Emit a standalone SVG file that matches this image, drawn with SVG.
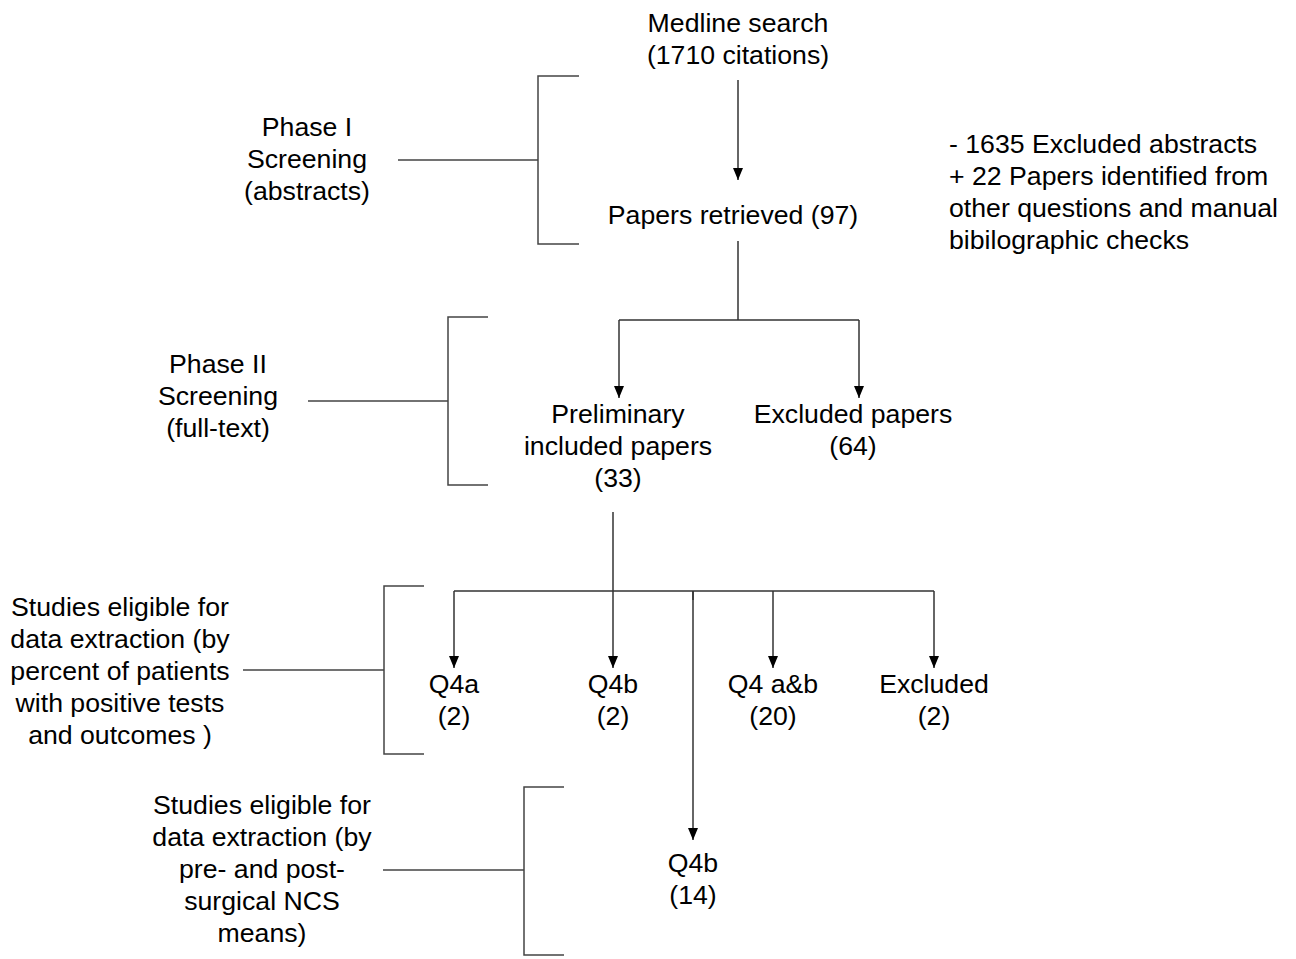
<svg xmlns="http://www.w3.org/2000/svg" width="1296" height="959" viewBox="0 0 1296 959">
<style>
text{font-family:"Liberation Sans",Arial,sans-serif;font-size:26.67px;fill:#000}
.c{text-anchor:middle}
.ln{stroke:#333;stroke-width:1.5;fill:none}
.ar{stroke:#333;stroke-width:1.5;fill:none;marker-end:url(#ah)}
.br{stroke:#444;stroke-width:1.5;fill:none}
</style>
<defs>
<marker id="ah" markerWidth="12" markerHeight="10" refX="12" refY="5" orient="auto" markerUnits="userSpaceOnUse" viewBox="0 0 12 10">
<path d="M0,0 L12,5 L0,10 Z" fill="#000"/>
</marker>
</defs>
<rect width="1296" height="959" fill="#fff"/>

<g id="connectors">
<line class="ar" x1="738" y1="80" x2="738" y2="180"/>
<path class="ln" d="M738,241 V320 M619,320 H859"/>
<line class="ar" x1="619" y1="320" x2="619" y2="398"/>
<line class="ar" x1="859" y1="320" x2="859" y2="398"/>
<path class="ln" d="M454,591 H934 M693,591 V600"/>
<line class="ar" x1="613" y1="512" x2="613" y2="668"/>
<line class="ar" x1="454" y1="591" x2="454" y2="668"/>
<line class="ar" x1="773" y1="591" x2="773" y2="668"/>
<line class="ar" x1="934" y1="591" x2="934" y2="668"/>
<line class="ar" x1="693" y1="591" x2="693" y2="840"/>
</g>

<g id="bracket1"><path class="br" d="M579,76 H538 V244 H579 M398,160 H538"/></g>
<g id="bracket2"><path class="br" d="M488,317 H448 V485 H488 M308,401 H448"/></g>
<g id="bracket3"><path class="br" d="M424,586 H384 V754 H424 M243,670 H384"/></g>
<g id="bracket4"><path class="br" d="M564,787 H524 V955 H564 M383,870 H524"/></g>

<g id="medline"><text class="c" x="738" y="32">Medline search</text><text class="c" x="738" y="64">(1710 citations)</text></g>
<g id="phase1"><text class="c" x="307" y="136">Phase I</text><text class="c" x="307" y="168">Screening</text><text class="c" x="307" y="200">(abstracts)</text></g>
<g id="retrieved"><text class="c" x="733" y="224">Papers retrieved (97)</text></g>
<g id="note"><text x="949" y="153">- 1635 Excluded abstracts</text><text x="949" y="185">+ 22 Papers identified from</text><text x="949" y="217">other questions and manual</text><text x="949" y="249">bibilographic checks</text></g>
<g id="phase2"><text class="c" x="218" y="373">Phase II</text><text class="c" x="218" y="405">Screening</text><text class="c" x="218" y="437">(full-text)</text></g>
<g id="prelim"><text class="c" x="618" y="423">Preliminary</text><text class="c" x="618" y="455">included papers</text><text class="c" x="618" y="487">(33)</text></g>
<g id="excl1"><text class="c" x="853" y="423">Excluded papers</text><text class="c" x="853" y="455">(64)</text></g>
<g id="elig1"><text class="c" x="120" y="616">Studies eligible for</text><text class="c" x="120" y="648">data extraction (by</text><text class="c" x="120" y="680">percent of patients</text><text class="c" x="120" y="712">with positive tests</text><text class="c" x="120" y="744">and outcomes )</text></g>
<g id="q4a"><text class="c" x="454" y="693">Q4a</text><text class="c" x="454" y="725">(2)</text></g>
<g id="q4b"><text class="c" x="613" y="693">Q4b</text><text class="c" x="613" y="725">(2)</text></g>
<g id="q4ab"><text class="c" x="773" y="693">Q4 a&amp;b</text><text class="c" x="773" y="725">(20)</text></g>
<g id="excl2"><text class="c" x="934" y="693">Excluded</text><text class="c" x="934" y="725">(2)</text></g>
<g id="elig2"><text class="c" x="262" y="814">Studies eligible for</text><text class="c" x="262" y="846">data extraction (by</text><text class="c" x="262" y="878">pre- and post-</text><text class="c" x="262" y="910">surgical NCS</text><text class="c" x="262" y="942">means)</text></g>
<g id="q4b14"><text class="c" x="693" y="872">Q4b</text><text class="c" x="693" y="904">(14)</text></g>
</svg>
